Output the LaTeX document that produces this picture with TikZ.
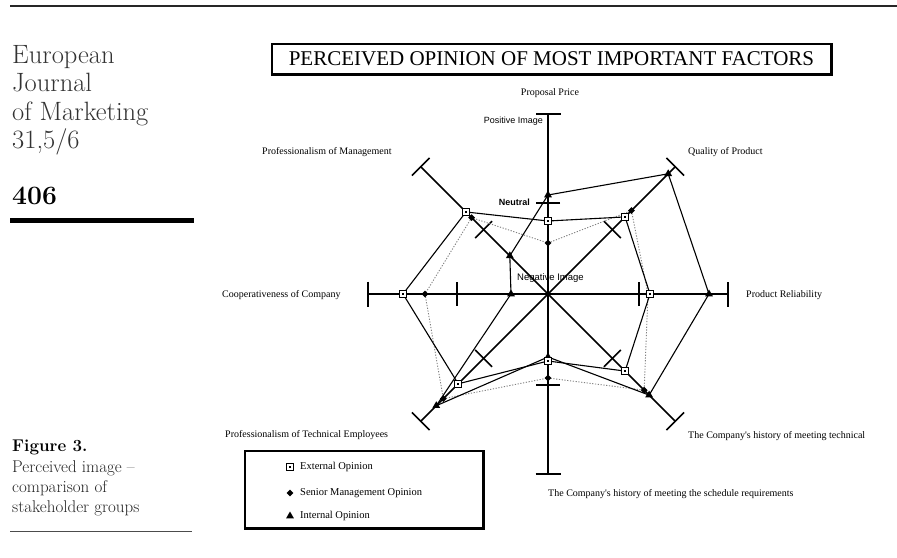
\documentclass[tikz,border=0pt]{standalone}
\usepackage{fontspec}
\newfontfamily\chartserif{Liberation Serif}
\newfontfamily\chartsans{Liberation Sans}
\usetikzlibrary{calc,shapes.geometric}

\tikzset{
  axisline/.style={line width=1.6pt},
  capline/.style={line width=1.6pt},
  extline/.style={line width=1.1pt},
  intline/.style={line width=1.1pt},
  senline/.style={line width=0.9pt, black!50, dash pattern=on 1.2pt off 1.6pt},
  sqmark/.style={rectangle, draw, line width=1pt, fill=white, minimum size=7pt, inner sep=0pt},
  sqdot/.style={rectangle, fill, minimum size=2pt, inner sep=0pt},
  dmmark/.style={diamond, fill, minimum size=7pt, inner sep=0pt},
  trmark/.style={regular polygon, regular polygon sides=3, fill, minimum size=9pt, inner sep=0pt},
  axlabel/.style={font=\chartserif\fontsize{10}{12}\selectfont, inner sep=0pt},
  scalelabel/.style={font=\chartsans\fontsize{9}{11}\selectfont, inner sep=0pt},
  sidetext/.style={font=\fontsize{26.5}{28}\selectfont, text=black!80, anchor=base west, inner sep=0pt},
  pagenum/.style={font=\bfseries\fontsize{26.5}{28}\selectfont, anchor=base west, inner sep=0pt},
  captext/.style={font=\fontsize{17}{20}\selectfont, text=black!85, anchor=base west, inner sep=0pt},
  titlebox/.style={draw, line width=1.2pt, minimum width=559pt, minimum height=30pt, inner sep=0pt,
    font=\chartserif\fontsize{21}{24}\selectfont},
  legendbox/.style={draw, line width=1.2pt, minimum width=238pt, minimum height=77pt, inner sep=0pt},
  legtext/.style={font=\chartserif\fontsize{10.5}{12}\selectfont, anchor=west, inner sep=0pt},
}

\begin{document}
\begin{tikzpicture}[x=1pt,y=-1pt]
\useasboundingbox (0,0) rectangle (897,557);
\fill[white] (0,0) rectangle (897,557);

% page furniture: rules and side column
\draw[line width=1.5pt, black!85] (10,6) -- (897,6);
\node[sidetext] (jn1) at (12,63) {European};
\node[sidetext] (jn2) at (12,91.5) {Journal};
\node[sidetext] (jn3) at (12,120) {of Marketing};
\node[sidetext] (jn4) at (12,148) {31,5/6};
\node[pagenum] (pg) at (12,204) {406};
\fill (10,217.5) rectangle (194,222.5);
\node[captext, font=\bfseries\fontsize{17}{20}\selectfont, text=black] (fg) at (12,451) {Figure 3.};
\node[captext] (cp1) at (12,472) {Perceived image --};
\node[captext] (cp2) at (12,492) {comparison of};
\node[captext] (cp3) at (12,512) {stakeholder groups};
\draw[line width=1pt, black!70] (10,531) -- (192,531);

% title
\node[titlebox] (title) at (551.5,59) {PERCEIVED OPINION OF MOST IMPORTANT FACTORS};
\draw[line width=2.4pt] (title.north east) -- (title.south east) -- (title.south west);

% radar axes with end caps and neutral ticks
\coordinate (c) at (548,294);
\foreach \ang [count=\i] in {-90,-45,0,45,90,135,180,225} {
  \coordinate (a\i) at ($(c)+(\ang:180)$);
  \coordinate (n\i) at ($(c)+(\ang:91)$);
  \draw[axisline] (c) -- (a\i);
  \draw[capline] ($(a\i)+({\ang+90}:12.5)$) -- ($(a\i)+({\ang-90}:12.5)$);
  \draw[capline] ($(n\i)+({\ang+90}:12)$) -- ($(n\i)+({\ang-90}:12)$);
}
\draw[line width=2pt] (a1) -- (a5);

% data: external, senior management, internal
\foreach \ang/\r [count=\i] in {-90/73,-45/109,0/102,45/109,90/67,135/127,180/145,225/116}
  \coordinate (e\i) at ($(c)+(\ang:\r)$);
\foreach \ang/\r [count=\i] in {-90/51,-45/118,0/100,45/136,90/84,135/148,180/123,225/108}
  \coordinate (s\i) at ($(c)+(\ang:\r)$);
\foreach \ang/\r [count=\i] in {-90/99,-45/170,0/161,45/143,90/63,135/158,180/37,225/54}
  \coordinate (t\i) at ($(c)+(\ang:\r)$);

\draw[senline] (s1) -- (s2) -- (s3) -- (s4) -- (s5) -- (s6) -- (s7) -- (s8) -- cycle;
\draw[extline] (e1) -- (e2) -- (e3) -- (e4) -- (e5) -- (e6) -- (e7) -- (e8) -- cycle;
\draw[intline] (t1) -- (t2) -- (t3) -- (t4) -- (t5) -- (t6) -- (t7) -- (t8) -- cycle;

\foreach \i in {1,...,8} {
  \node[dmmark] (sm\i) at (s\i) {};
  \node[trmark] (tm\i) at (t\i) {};
  \node[sqmark] (em\i) at (e\i) {};
  \node[sqdot] (ed\i) at (e\i) {};
}

% axis and scale labels
\node[axlabel] (l1) at (550,93) {Proposal Price};
\node[axlabel, anchor=west] (l2) at (688,152) {Quality of Product};
\node[axlabel, anchor=west] (l3) at (746,295) {Product Reliability};
\node[axlabel, anchor=west] (l4) at (688,436) {The Company's history of meeting technical};
\node[axlabel, anchor=west] (l5) at (548,494) {The Company's history of meeting the schedule requirements};
\node[axlabel, anchor=west] (l6) at (225,435) {Professionalism of Technical Employees};
\node[axlabel, anchor=west] (l7) at (222,295) {Cooperativeness of Company};
\node[axlabel, anchor=west] (l8) at (262,152) {Professionalism of Management};
\node[scalelabel, anchor=east] (pos) at (543,121) {Positive Image};
\node[scalelabel, font=\chartsans\bfseries\fontsize{9}{11}\selectfont, anchor=east] (neu) at (530,202) {Neutral};
\node[scalelabel, font=\chartsans\fontsize{9.5}{11}\selectfont, anchor=west] (neg) at (517,278) {Negative Image};

% legend
\node[legendbox] (leg) at (364,489.5) {};
\draw[line width=2.4pt] (leg.north east) -- (leg.south east) -- (leg.south west);
\node[sqmark] (lm1) at (290,467) {};
\node[sqdot] (ld1) at (290,467) {};
\node[dmmark] (lm2) at (290,493) {};
\node[trmark] (lm3) at (290,516) {};
\node[legtext] (lt1) at (300,467) {External Opinion};
\node[legtext] (lt2) at (300,493) {Senior Management Opinion};
\node[legtext] (lt3) at (300,516) {Internal Opinion};
\end{tikzpicture}
\end{document}
